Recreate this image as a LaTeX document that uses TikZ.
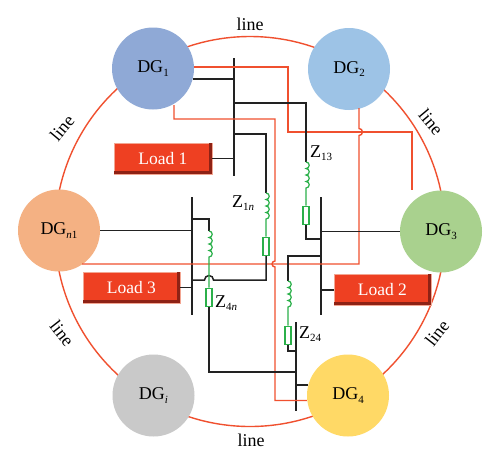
\documentclass[tikz,border=0pt]{standalone}
\usepackage{fontspec}
\setmainfont{Liberation Serif}
\definecolor{redline}{HTML}{F0502F}
\definecolor{loadred}{HTML}{EE4022}
\definecolor{loaddark}{HTML}{8E2215}
\definecolor{loadpale}{HTML}{F3A692}
\definecolor{greenpart}{HTML}{2BB04A}
\definecolor{buscol}{HTML}{222222}
\definecolor{dgone}{HTML}{8FA9D6}
\definecolor{dgtwo}{HTML}{9DC3E6}
\definecolor{dgthree}{HTML}{A9D18E}
\definecolor{dgnone}{HTML}{F4B183}
\definecolor{dgi}{HTML}{C9C9C9}
\definecolor{dgfour}{HTML}{FFD966}
\newcommand{\subs}[1]{\raisebox{-0.4ex}{\fontsize{11}{12}\selectfont #1}}
\newcommand{\coilrun}{arc (-90:90:3.25) arc (-90:90:3.25) arc (-90:90:3.25) arc (-90:90:3.25)}
\tikzset{
  dgnode/.style={circle,draw=none,fill=#1,minimum size=82pt,inner sep=0pt,font=\fontsize{18}{20}\selectfont},
  wire/.style={draw=buscol,line width=1.5pt},
  buswire/.style={draw=buscol,line width=1.8pt},
  redwire/.style={draw=redline,line width=1.4pt},
  greenwire/.style={draw=greenpart,line width=1.2pt},
  resist/.style={rectangle,draw=greenpart,fill=white,line width=1.8pt,minimum width=6pt,minimum height=18pt,inner sep=0pt},
  loadbox/.style={rectangle,fill=loadred,draw=loadpale,line width=0.8pt,text=white,inner sep=0pt,anchor=north west,font=\fontsize{17.5}{20}\selectfont},
  linelabel/.style={inner sep=0pt,font=\fontsize{18}{20}\selectfont},
  zlabel/.style={inner sep=0pt,anchor=west,font=\fontsize{18}{20}\selectfont},
}
\begin{document}
\begin{tikzpicture}[x=1pt,y=-1pt]
\useasboundingbox (0,0) rectangle (500,464);
\fill[white] (0,0) rectangle (500,464);
% outer ring
\draw[redwire] (250,231.5) circle (195);
% DG units
\node[dgnode=dgone] (dg1) at (153,68.5) {DG\subs{1}};
\node[dgnode=dgtwo] (dg2) at (349,69) {DG\subs{2}};
\node[dgnode=dgthree] (dg3) at (441,231.5) {DG\subs{3}};
\node[dgnode=dgnone] (dgn) at (59,230.5) {DG\subs{\textit{n}1}};
\node[dgnode=dgi] (dgi) at (153.5,395.5) {DG\subs{\textit{i}}};
\node[dgnode=dgfour] (dg4) at (348,395.5) {DG\subs{4}};
% ring labels
\node[linelabel] (l1) at (250,24) {line};
\node[linelabel,rotate=50] (l2) at (62,128) {line};
\node[linelabel,rotate=-50] (l3) at (431,122) {line};
\node[linelabel,rotate=-52] (l4) at (62,333) {line};
\node[linelabel,rotate=52] (l5) at (437,333) {line};
\node[linelabel] (l6) at (251,440) {line};
% loads
\node[loadbox,minimum width=98pt,minimum height=31pt] (load1) at (113.5,142.5) {Load 1};
\node[loadbox,minimum width=97pt,minimum height=31pt] (load3) at (82.5,271.5) {Load 3};
\node[loadbox,minimum width=97pt,minimum height=31pt] (load2) at (333.5,274) {Load 2};
\foreach \ld in {load1,load2,load3}{
  \fill[loaddark] ([shift={(0.4,-3.4)}]\ld.south west) rectangle ([shift={(-0.4,-0.4)}]\ld.south east);
  \fill[loaddark] ([shift={(-3,0.4)}]\ld.north east) rectangle ([shift={(-0.4,-0.4)}]\ld.south east);
}
% buses
\coordinate (b1t) at (234,58);  \coordinate (b1b) at (234,176);
\coordinate (b3t) at (321,197); \coordinate (b3b) at (321,315);
\coordinate (bnt) at (192,197); \coordinate (bnb) at (192,315);
\coordinate (b4t) at (296,322); \coordinate (b4b) at (296,411);
\draw[buswire] (b1t) -- (b1b);
\draw[buswire] (b3t) -- (b3b);
\draw[buswire] (bnt) -- (bnb);
\draw[buswire] (b4t) -- (b4b);
% inductor end points
\coordinate (c13) at (306,162);
\coordinate (c1n) at (266,193);
\coordinate (c4n) at (209,231);
\coordinate (c24) at (288,281);
% red links
\coordinate (ra) at (288,67);
\coordinate (rb) at (412,132);
\coordinate (rc) at (174,119);
\coordinate (rd) at (275,400.5);
\coordinate (re) at (359,264);
\draw[redwire] (dg1.2) -- (dg1.2 -| ra) -- (ra |- rb) -- (rb) -- (rb |- dg3.north);
\draw[redwire] (174,105) -- (rc) -- (rc -| rd) -- (275,261) arc (270:90:3) -- (rd) -- (rd -| dg4.west);
\draw[redwire] (359,108) -- (359,128.5) arc (-90:90:3.5) -- (re) -- (82,264);
% black links
\draw[wire] (dg1.-15) -- (dg1.-15 -| b1t);
\draw[wire] (b1t |- 0,103) -- (306,103) -- (c13);
\draw[wire] (b1t |- 0,134) -- (266,134) -- (c1n);
\draw[wire] (load1.east) -- (load1.east -| b1t);
\draw[wire] (dg3.west) -- (dg3.west -| b3t);
\draw[wire] (dgn.east) -- (dgn.east -| bnt);
\draw[wire] (306,224) -- (306,239) -- (321,239);
\draw[wire] (b3t |- 0,256) -- (288,256) -- (c24);
\draw[wire] (load2.west) -- (load2.west -| b3t);
\draw[wire] (288,344) -- (288,351) -- (296,351);
\draw[wire] (bnt |- 0,219) -- (209,219) -- (c4n);
\draw[wire] (load3.east) -- (load3.east -| bnt);
\draw[wire] (266,255) -- (266,280) -- (213.5,280) arc (360:180:4.5) -- (bnt |- 0,280);
\draw[wire] (209,306) -- (209,372) -- (296,372);
\draw[wire] (b4t |- 0,385) -- (308,385);
% resistors
\node[resist] (r13) at (306,215.5) {};
\node[resist] (r1n) at (266,246.5) {};
\node[resist] (r4n) at (209,297.5) {};
\node[resist] (r24) at (288,335.5) {};
% coils and green leads
\draw[greenwire] (c13) \coilrun -- (r13.north);
\draw[greenwire] (c1n) \coilrun -- (r1n.north);
\draw[greenwire] (c4n) \coilrun -- (r4n.north);
\draw[greenwire] (c24) \coilrun -- (r24.north);
% impedance labels
\node[zlabel] (z13) at (310,153) {Z\subs{13}};
\node[zlabel] (z1n) at (232,203) {Z\subs{1\textit{n}}};
\node[zlabel] (z4n) at (215,303) {Z\subs{4\textit{n}}};
\node[zlabel] (z24) at (299,334) {Z\subs{24}};
\end{tikzpicture}
\end{document}
